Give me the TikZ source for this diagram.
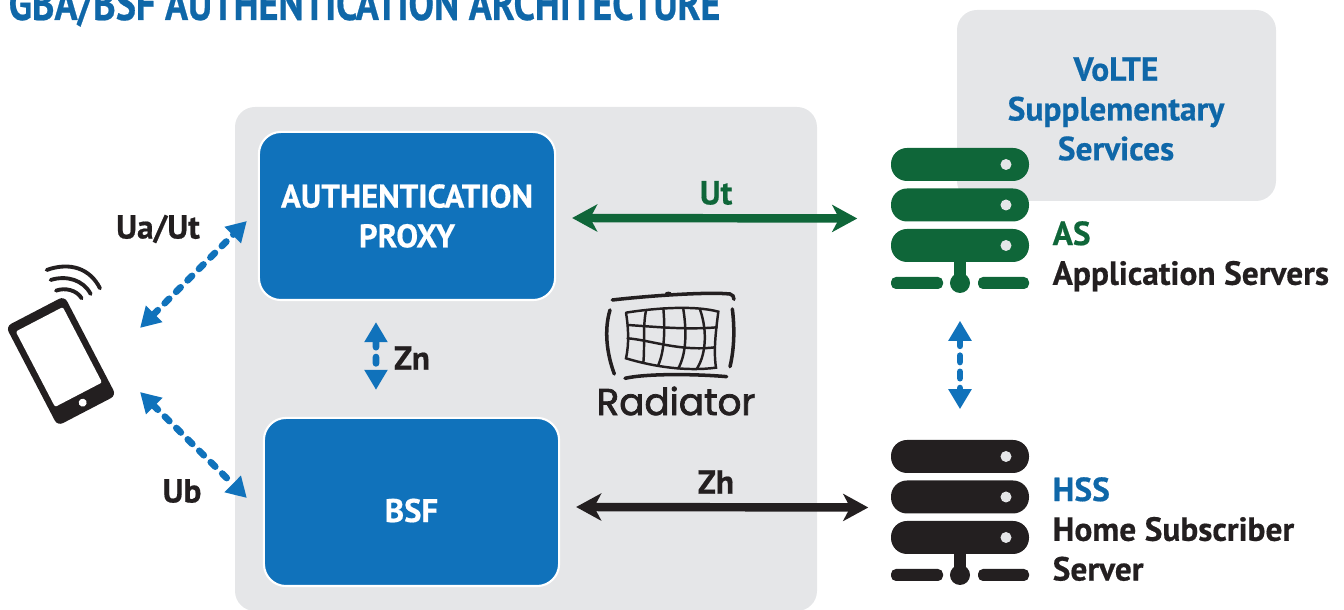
\documentclass[tikz,border=0pt]{standalone}
\usepackage{fontspec}
\setmainfont[BoldFeatures={FakeBold=0.5}]{PT Sans}
\newfontfamily\titlefont[FakeStretch=0.81,BoldFeatures={FakeBold=0.5}]{PT Sans}
\newfontfamily\logofont[FakeBold=2]{Poppins}
\usetikzlibrary{arrows.meta,positioning}

\definecolor{panelgray}{HTML}{E5E6E8}
\definecolor{boxblue}{HTML}{1072BB}
\definecolor{textblue}{HTML}{0F67A8}
\definecolor{servergreen}{HTML}{0F6639}
\definecolor{inkblack}{HTML}{231F20}

\tikzset{
    panel/.style={fill=panelgray, rounded corners=0.2cm},
    bluebox/.style={draw=white, line width=0.6pt, fill=boxblue, rounded corners=0.22cm, inner sep=0pt,
        text=white, align=center, font=\bfseries\fontsize{9.3}{11.3}\selectfont},
    label/.style={font=\bfseries\fontsize{9.5}{11.3}\selectfont, text=inkblack, inner sep=0pt},
    serverlabel/.style={label, align=left, anchor=north west},
    serverbox/.style={minimum width=1.38cm, minimum height=1.41cm, inner sep=0pt},
    dotarrow/.style={{Triangle[length=0.2cm,width=0.22cm]}-{Triangle[length=0.2cm,width=0.22cm]},
        draw=boxblue, line width=1.9pt, line cap=round, dash pattern=on 1.8pt off 2.8pt},
    solidarrow/.style={{Stealth[length=0.25cm,width=0.27cm,inset=0.07cm]}-{Stealth[length=0.25cm,width=0.27cm,inset=0.07cm]}, line width=2.4pt},
}

% server icon, #1 centre of the stack, #2 colour
\newcommand{\serverrack}[2]{
    \begin{scope}[shift={#1}]
        \foreach \y in {-54,-13.5,27}
            \fill[#2, rounded corners=0.16cm] (-69,\y-16.5) rectangle (69,\y+16.5);
        \foreach \y in {-54,-13.5,27}
            \fill[panelgray] (46,\y) circle (0.055cm);
        \fill[#2] (-6,40) rectangle (6,60);
        \fill[#2] (0,64.5) circle (0.1cm);
        \fill[#2, rounded corners=0.05cm] (-69,58.5) rectangle (-17,70.5);
        \fill[#2, rounded corners=0.05cm] (18,58.5) rectangle (69,70.5);
    \end{scope}
}

\begin{document}
\begin{tikzpicture}[x=0.01cm, y=-0.01cm]
    \clip (0,0) rectangle (1344,610);

    \node[font=\titlefont\bfseries\fontsize{13.4}{16}\selectfont, text=textblue, anchor=base west, inner sep=0pt] (Title) at (8,20) {GBA/BSF AUTHENTICATION ARCHITECTURE};

    \fill[panel] (235,107) rectangle (817,611);
    \fill[panel] (957,10) rectangle (1276,201);

    \node[label, text=textblue, align=center] (Volte) at (1116,109) {VoLTE\\Supplementary\\Services};

    \node[bluebox, minimum width=2.96cm, minimum height=1.68cm] (Proxy) at (407,216) {AUTHENTICATION\\PROXY};
    \node[bluebox, minimum width=2.95cm, minimum height=1.68cm] (BSF) at (411.5,502) {\raisebox{-0.2cm}[0pt][0pt]{BSF}};

    \node[serverbox] (AS) at (960,218.5) {};
    \node[serverbox] (HSS) at (960,510.5) {};
    \serverrack{(960,218.5)}{servergreen}
    \serverrack{(960,510.5)}{inkblack}

    \node[serverlabel] (ASlabel) at (1052,220.5) {\textcolor{servergreen}{AS}\\Application Servers};
    \node[serverlabel] (HSSlabel) at (1052,476.5) {\textcolor{textblue}{HSS}\\Home Subscriber\\Server};

    % phone
    \coordinate (Phone) at (61,361);
    \begin{scope}[shift={(61,361)}, rotate=27.5]
        \fill[inkblack, rounded corners=0.06cm] (-33,-56) rectangle (33,56);
        \fill[white, rounded corners=0.02cm] (-26.5,-47) rectangle (26.5,38);
        \fill[white] (0,47) circle (0.04cm);
    \end{scope}
    \begin{scope}[shift={(0,200)}, scale=1/3]
        \draw[inkblack, line width=1.1pt, line cap=round] (140,210) .. controls (210,185) and (270,205) .. (300,265);
        \draw[inkblack, line width=1.1pt, line cap=round] (152,240) .. controls (200,225) and (250,240) .. (272,282);
        \draw[inkblack, line width=1.1pt, line cap=round] (168,272) .. controls (195,262) and (230,270) .. (245,295);
    \end{scope}

    % logo
    \begin{scope}[shift={(580,270)}, scale=1/3, draw=inkblack, line cap=round]
        \draw[line width=1pt] (97,90) .. controls (200,78) and (380,65) .. (450,72) .. controls (458,74) and (462,80) .. (462,88);
        \fill[inkblack] (265,70) ellipse (0.1cm and 0.05cm);
        \draw[line width=1pt] (90,120) .. controls (72,180) and (80,250) .. (103,312);
        \draw[line width=1pt] (457,117) .. controls (465,180) and (462,240) .. (450,290);
        \draw[line width=1pt] (135,325) .. controls (200,310) and (350,312) .. (440,320);
        \draw[line width=0.7pt] (138,128) .. controls (220,115) and (340,105) .. (415,125) .. controls (408,180) and (400,240) .. (408,293) .. controls (320,305) and (220,290) .. (138,265) .. controls (148,220) and (145,170) .. (138,128);
        \draw[line width=0.7pt] (143,165) .. controls (220,170) and (320,180) .. (410,172);
        \draw[line width=0.7pt] (143,205) .. controls (210,210) and (300,245) .. (405,232);
        \draw[line width=0.7pt] (198,122) .. controls (188,170) and (195,230) .. (190,278);
        \draw[line width=0.7pt] (250,115) .. controls (255,170) and (255,240) .. (235,285);
        \draw[line width=0.7pt] (310,118) .. controls (320,180) and (320,250) .. (295,295);
        \draw[line width=0.7pt] (360,118) .. controls (385,190) and (375,260) .. (350,297);
    \end{scope}
    \node[font=\logofont\fontsize{10.6}{14}\selectfont, text=inkblack, inner sep=0pt] (Logo) at (676,401) {Radiator};

    % connectors
    \draw[dotarrow] ([xshift=0.79cm, yshift=0.33cm]Phone) -- ([xshift=-0.11cm, yshift=-0.05cm]Proxy.west);
    \draw[dotarrow] ([xshift=0.79cm, yshift=-0.31cm]Phone) -- ([xshift=-0.16cm, yshift=0.04cm]BSF.west);
    \draw[dotarrow] ([xshift=-0.31cm, yshift=-0.21cm]Proxy.south) -- ([xshift=-0.355cm, yshift=0.27cm]BSF.north);
    \draw[dotarrow] ([yshift=-0.31cm]AS.south) -- ([yshift=0.3cm]HSS.north);

    \draw[solidarrow, draw=servergreen, fill=servergreen] ([xshift=0.16cm, yshift=-0.02cm]Proxy.east) -- ([xshift=-0.33cm]AS.west);
    \draw[solidarrow, draw=inkblack, fill=inkblack] ([xshift=0.16cm, yshift=-0.05cm]BSF.east) -- ([xshift=-0.22cm, yshift=0.03cm]HSS.west);

    \node[label] (Ualabel) at (158,229) {Ua/Ut};
    \node[label] (Ublabel) at (182,491) {Ub};
    \node[label] (Znlabel) at (412,358) {Zn};
    \node[label, text=servergreen] (Utlabel) at (716,193) {Ut};
    \node[label] (Zhlabel) at (716,482) {Zh};
\end{tikzpicture}
\end{document}
